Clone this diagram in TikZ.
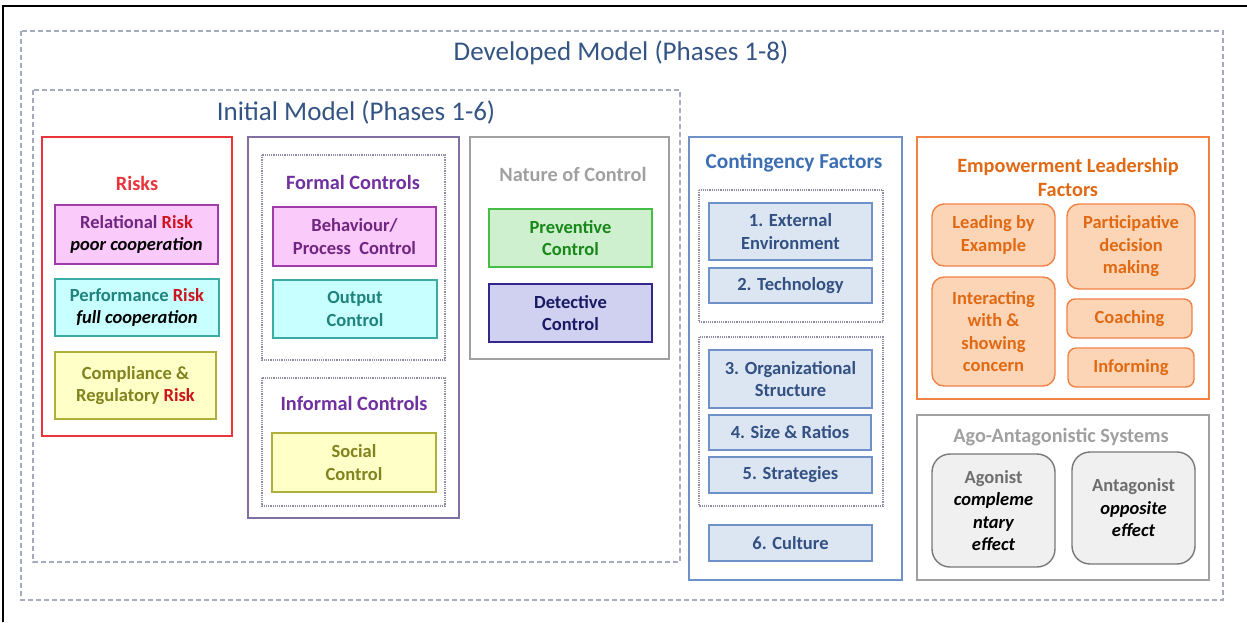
\documentclass[tikz,border=0pt]{standalone}
\usepackage{fontspec}
\setmainfont{Carlito}
\usetikzlibrary{positioning}
\definecolor{titleblue}{RGB}{52,84,132}
\definecolor{dashgrey}{RGB}{165,172,190}
\definecolor{riskred}{RGB}{232,52,58}
\definecolor{wordred}{RGB}{205,20,30}
\definecolor{magborder}{RGB}{160,60,170}
\definecolor{magfill}{RGB}{250,202,250}
\definecolor{magtext}{RGB}{112,38,128}
\definecolor{cyanborder}{RGB}{60,170,165}
\definecolor{cyanfill}{RGB}{200,255,255}
\definecolor{cyantext}{RGB}{30,130,125}
\definecolor{yelborder}{RGB}{175,175,60}
\definecolor{yelfill}{RGB}{255,255,200}
\definecolor{yeltext}{RGB}{130,130,30}
\definecolor{ctrlborder}{RGB}{128,112,160}
\definecolor{ctrltext}{RGB}{112,48,160}
\definecolor{dotgrey}{RGB}{140,140,165}
\definecolor{natgrey}{RGB}{160,160,160}
\definecolor{grnborder}{RGB}{70,190,70}
\definecolor{grnfill}{RGB}{206,240,206}
\definecolor{grntext}{RGB}{25,135,25}
\definecolor{navyborder}{RGB}{50,40,140}
\definecolor{navyfill}{RGB}{208,208,240}
\definecolor{navytext}{RGB}{25,25,100}
\definecolor{cfborder}{RGB}{110,145,200}
\definecolor{cffill}{RGB}{220,230,242}
\definecolor{cftext}{RGB}{50,80,130}
\definecolor{cftitle}{RGB}{60,110,180}
\definecolor{orborder}{RGB}{240,130,70}
\definecolor{orfill}{RGB}{251,213,181}
\definecolor{ortext}{RGB}{225,105,20}
\definecolor{agborder}{RGB}{120,120,120}
\definecolor{agfill}{RGB}{240,240,240}
\definecolor{agtext}{RGB}{110,110,110}
\tikzset{
  frame/.style={draw=dashgrey,line width=1.2pt,dash pattern=on 5pt off 3pt},
  group/.style={draw=#1,line width=1.8pt},
  dotbox/.style={draw=dotgrey,line width=1.2pt,densely dotted},
  bigtitle/.style={text=titleblue,font=\fontsize{27}{31}\selectfont},
  heading/.style={text=#1,font=\fontsize{20.3}{24}\selectfont\bfseries,align=center},
  item/.style 2 args={draw=#1,fill=#2,line width=1.4pt,inner sep=0pt,align=center,
    font=\fontsize{18.5}{22.5}\selectfont\bfseries},
  ritem/.style 2 args={item={#1}{#2},rounded corners=12pt}
}

\begin{document}
\begin{tikzpicture}[x=1pt,y=-1pt]
    \useasboundingbox (0,0) rectangle (1247,622);
    \draw[line width=1.5pt] (3,622) -- (3,6) -- (1247,6);

    % Developed and initial model
    \draw[frame] (21,31) rectangle (1223,600);
    \node[bigtitle] (devtitle) at (621,53) {Developed Model (Phases 1-8)};
    \draw[frame] (33,90) rectangle (680,562);
    \node[bigtitle] (inittitle) at (356,112) {Initial Model (Phases 1-6)};

    % Risks
    \draw[group=riskred] (42,137) rectangle (232,436);
    \node[heading=riskred] (risks) at (137,183) {Risks};
    \node[item={magborder}{magfill},text=magtext,minimum width=163,minimum height=59] (relrisk) at (136.5,234.5)
        {Relational \textcolor{wordred}{Risk}\\ \textcolor{black}{\itshape poor cooperation}};
    \node[item={cyanborder}{cyanfill},text=cyantext,minimum width=164,minimum height=57] (perfrisk) at (137,307.5)
        {Performance \textcolor{wordred}{Risk}\\ \textcolor{black}{\itshape full cooperation}};
    \node[item={yelborder}{yelfill},text=yeltext,minimum width=161,minimum height=67] (comprisk) at (135.5,385.5)
        {Compliance \&\\ Regulatory \textcolor{wordred}{Risk}};

    % Formal and informal controls
    \draw[group=ctrlborder] (248,137) rectangle (459,518);
    \draw[dotbox] (262,155) rectangle (445,360);
    \node[heading=ctrltext] (formal) at (353,182) {Formal Controls};
    \node[item={magborder}{magfill},text=magtext,minimum width=163,minimum height=59] (behav) at (354.5,236.5)
        {Behaviour/\\ Process\ \ Control};
    \node[item={cyanborder}{cyanfill},text=cyantext,minimum width=164,minimum height=58] (output) at (355,309)
        {Output\\ Control};
    \draw[dotbox] (262,378) rectangle (445,506);
    \node[heading=ctrltext] (informal) at (354,403) {Informal Controls};
    \node[item={yelborder}{yelfill},text=yeltext,minimum width=164,minimum height=59] (social) at (354,462.5)
        {Social\\ Control};

    % Nature of control
    \draw[group=natgrey] (470,137) rectangle (669,359);
    \node[heading=natgrey] (nature) at (573,174) {Nature of Control};
    \node[item={grnborder}{grnfill},text=grntext,minimum width=163,minimum height=58] (prev) at (570.5,238)
        {Preventive\\ Control};
    \node[item={navyborder}{navyfill},text=navytext,minimum width=163,minimum height=58] (detect) at (570.5,313)
        {Detective\\ Control};

    % Contingency factors
    \draw[group=cfborder] (689,137) rectangle (902,580);
    \node[heading=cftitle,font=\fontsize{21.3}{25}\selectfont\bfseries] (contin) at (794,163) {Contingency Factors};
    \draw[dotbox] (699,190) rectangle (883,322);
    \node[item={cfborder}{cffill},text=cftext,minimum width=163,minimum height=57] (cfone) at (790.5,231.5)
        {1. External\\ Environment};
    \node[item={cfborder}{cffill},text=cftext,minimum width=163,minimum height=35] (cftwo) at (790.5,285.5)
        {2. Technology};
    \draw[dotbox] (699,337) rectangle (883,506);
    \node[item={cfborder}{cffill},text=cftext,minimum width=163,minimum height=58] (cfthree) at (790.5,379)
        {3. Organizational\\ Structure};
    \node[item={cfborder}{cffill},text=cftext,minimum width=162,minimum height=35] (cffour) at (790,432.5)
        {4. Size \& Ratios};
    \node[item={cfborder}{cffill},text=cftext,minimum width=163,minimum height=36] (cffive) at (790.5,475)
        {5. Strategies};
    \node[item={cfborder}{cffill},text=cftext,minimum width=163,minimum height=36] (cfsix) at (790.5,543)
        {6. Culture};

    % Empowerment leadership
    \draw[group=orborder] (917,137) rectangle (1209,399);
    \node[heading=ortext] (emp) at (1068,177) {Empowerment Leadership\\ Factors};
    \node[ritem={orborder}{orfill},text=ortext,minimum width=123,minimum height=62] (lead) at (993.5,235)
        {Leading by\\ Example};
    \node[ritem={orborder}{orfill},text=ortext,minimum width=128,minimum height=85] (partic) at (1131,246.5)
        {Participative\\ decision\\ making};
    \node[ritem={orborder}{orfill},text=ortext,minimum width=123,minimum height=109] (inter) at (993.5,331.5)
        {Interacting\\ with \&\\ showing\\ concern};
    \node[ritem={orborder}{orfill},text=ortext,rounded corners=8pt,minimum width=125,minimum height=39] (coach) at (1129.5,318.5)
        {Coaching};
    \node[ritem={orborder}{orfill},text=ortext,rounded corners=8pt,minimum width=126,minimum height=39] (inform) at (1131,367.5)
        {Informing};

    % Ago-antagonistic systems
    \draw[group=natgrey] (917,415) rectangle (1209,580);
    \node[heading=natgrey] (ago) at (1061,437) {Ago-Antagonistic Systems};
    \node[ritem={agborder}{agfill},text=agtext,rounded corners=18pt,minimum width=123,minimum height=113] (agon) at (993.5,510.5)
        {Agonist\\ \textcolor{black}{\itshape compleme}\\ \textcolor{black}{\itshape ntary}\\ \textcolor{black}{\itshape effect}};
    \node[ritem={agborder}{agfill},text=agtext,rounded corners=18pt,minimum width=123,minimum height=112] (antag) at (1133.5,508)
        {Antagonist\\ \textcolor{black}{\itshape opposite}\\ \textcolor{black}{\itshape effect}};
\end{tikzpicture}
\end{document}
